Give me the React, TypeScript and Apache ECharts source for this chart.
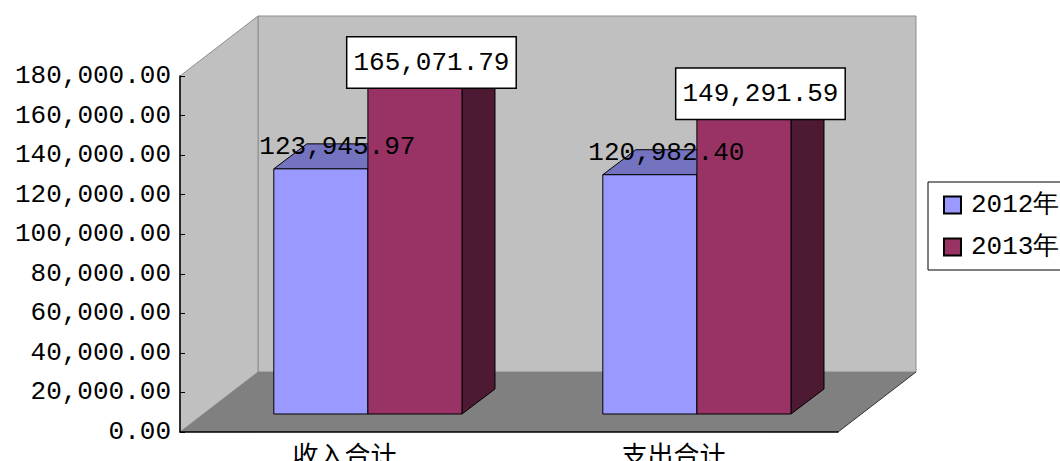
import React, { useEffect, useRef } from "react";
import * as echarts from "echarts";

const categories = ["收入合计", "支出合计"];
const seriesNames = ["2012年", "2013年"];
const values2012 = [123945.97, 120982.4];
const values2013 = [165071.79, 149291.59];
const yTicks = { min: 0, max: 180000, interval: 20000 };

const MONO = "'Liberation Mono', 'DejaVu Sans Mono', monospace";
const CJK = "'Noto Sans CJK SC', sans-serif";

const fmt = (v: number) =>
  v.toLocaleString("en-US", { minimumFractionDigits: 2, maximumFractionDigits: 2 });

// 3D look parameters (pixels)
const WALL_DX = 78;
const WALL_DY = -60;
const FRONT_DX = 23.4;
const FRONT_DY = -18;
const BAR_DX = 33;
const BAR_DY = -25;
const BAR_RATIO = 0.286;

const palettes = [
  { front: "#9999ff", top: "#7373c0", side: "#4d4d80" },
  { front: "#993366", top: "#73264d", side: "#4d1933" },
];

function barGeom(s: number, api: any) {
  const ci = api.value(0);
  const val = api.value(1);
  const base = api.coord([ci, 0]);
  const top = api.coord([ci, val]);
  const band = api.size([1, 0])[0];
  const w = band * BAR_RATIO;
  const x0 = base[0] + (s === 0 ? -w : 0) + FRONT_DX;
  const yT = top[1] + FRONT_DY;
  const yB = base[1] + FRONT_DY;
  return { val, w, x0, yT, yB };
}

function makeBarRender(s: number) {
  return (params: any, api: any) => {
    const { w, x0, yT, yB } = barGeom(s, api);
    const p = palettes[s];
    const stroke = { stroke: "#000", lineWidth: 1 };
    return {
      type: "group",
      children: [
        {
          type: "polygon",
          shape: { points: [[x0, yT], [x0 + BAR_DX, yT + BAR_DY], [x0 + w + BAR_DX, yT + BAR_DY], [x0 + w, yT]] },
          style: { fill: p.top, ...stroke },
        },
        {
          type: "polygon",
          shape: { points: [[x0 + w, yT], [x0 + w + BAR_DX, yT + BAR_DY], [x0 + w + BAR_DX, yB + BAR_DY], [x0 + w, yB]] },
          style: { fill: p.side, ...stroke },
        },
        {
          type: "rect",
          shape: { x: x0, y: yT, width: w, height: yB - yT },
          style: { fill: p.front, ...stroke },
        },
      ],
    };
  };
}

function makeLabelRender(s: number) {
  return (params: any, api: any) => {
    const { val, w, x0, yT } = barGeom(s, api);
    const cx = x0 + w / 2 + BAR_DX / 2;
    if (s === 0) {
      return {
        type: "text",
        style: {
          text: fmt(val),
          x: cx,
          y: yT - 22,
          align: "center",
          verticalAlign: "middle",
          fill: "#000",
          fontSize: 26,
          fontFamily: MONO,
        },
      };
    }
    return {
      type: "text",
      style: {
        text: fmt(val),
        x: cx,
        y: yT,
        align: "center",
        verticalAlign: "bottom",
        fill: "#000",
        fontSize: 26,
        fontFamily: MONO,
        backgroundColor: "#fff",
        borderColor: "#000",
        borderWidth: 1.5,
        padding: [12, 6, 12, 6],
      },
    };
  };
}

function wallsRender(params: any) {
  const cs = params.coordSys;
  const L = cs.x;
  const T = cs.y;
  const R = cs.x + cs.width;
  const B = cs.y + cs.height;
  return {
    type: "group",
    children: [
      {
        type: "polygon",
        shape: { points: [[L + WALL_DX, T + WALL_DY], [R + WALL_DX, T + WALL_DY], [R + WALL_DX, B + WALL_DY], [L + WALL_DX, B + WALL_DY]] },
        style: { fill: "#c0c0c0", stroke: "#8c8c8c", lineWidth: 1 },
      },
      {
        type: "polygon",
        shape: { points: [[L, T], [L + WALL_DX, T + WALL_DY], [L + WALL_DX, B + WALL_DY], [L, B]] },
        style: { fill: "#c0c0c0", stroke: "#8c8c8c", lineWidth: 1 },
      },
      {
        type: "polygon",
        shape: { points: [[L, B], [L + WALL_DX, B + WALL_DY], [R + WALL_DX, B + WALL_DY], [R, B]] },
        style: { fill: "#808080", stroke: "none" },
      },
      {
        type: "line",
        shape: { x1: R, y1: B, x2: R + WALL_DX, y2: B + WALL_DY },
        style: { stroke: "#333", lineWidth: 1 },
      },
    ],
  };
}

export default function App() {
  const ref = useRef<HTMLDivElement>(null);
  useEffect(() => {
    if (!ref.current) return;
    const chart = echarts.init(ref.current, null, { renderer: "svg" });
    const enc = { x: 0, y: 1 };
    const d2012 = values2012.map((v, i) => [i, v]);
    const d2013 = values2013.map((v, i) => [i, v]);
    chart.setOption({
      animation: false,
      backgroundColor: "#fff",
      grid: { left: 180, right: 222, top: 76, bottom: 29, containLabel: false, outerBoundsMode: "none" },
      legend: {
        data: seriesNames,
        orient: "vertical",
        left: 928,
        top: 182,
        icon: "rect",
        itemWidth: 17,
        itemHeight: 17,
        itemGap: 16,
        padding: [10, 30, 10, 15],
        borderColor: "#000",
        borderWidth: 1,
        textStyle: { fontSize: 26, fontFamily: MONO, color: "#000", padding: [0, 0, 0, 5] },
      },
      xAxis: {
        type: "category",
        data: categories,
        axisLine: { lineStyle: { color: "#000", width: 1.5 } },
        axisTick: { inside: true, length: 6, lineStyle: { color: "#000" } },
        axisLabel: { fontSize: 26, fontFamily: CJK, color: "#000", margin: 8 },
        splitLine: { show: false },
      },
      yAxis: {
        type: "value",
        min: yTicks.min,
        max: yTicks.max,
        interval: yTicks.interval,
        axisLine: { show: true, lineStyle: { color: "#000", width: 1.5 } },
        axisTick: { show: true, inside: true, length: 5, lineStyle: { color: "#000" } },
        axisLabel: { fontSize: 26, fontFamily: MONO, color: "#000", margin: 9, formatter: (v: number) => fmt(v) },
        splitLine: { show: false },
      },
      series: [
        {
          type: "custom",
          name: "walls",
          z: -1,
          renderItem: wallsRender,
          data: [[0, 0]],
          encode: enc,
          silent: true,
        },
        {
          type: "custom",
          name: seriesNames[0],
          z: 2,
          renderItem: makeBarRender(0),
          itemStyle: { color: palettes[0].front, borderColor: "#000", borderWidth: 1 },
          data: d2012,
          encode: enc,
        },
        {
          type: "custom",
          name: seriesNames[1],
          z: 3,
          renderItem: makeBarRender(1),
          itemStyle: { color: palettes[1].front, borderColor: "#000", borderWidth: 1 },
          data: d2013,
          encode: enc,
        },
        {
          type: "custom",
          name: "labels2012",
          z: 5,
          renderItem: makeLabelRender(0),
          data: d2012,
          encode: enc,
          silent: true,
        },
        {
          type: "custom",
          name: "labels2013",
          z: 5,
          renderItem: makeLabelRender(1),
          data: d2013,
          encode: enc,
          silent: true,
        },
      ],
    });
    return () => chart.dispose();
  }, []);
  return <div ref={ref} style={{ position: "absolute", left: 0, top: 0, width: 1060, height: 461 }} />;
}
